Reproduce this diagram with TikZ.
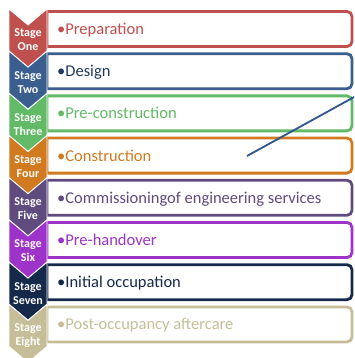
\documentclass[tikz,border=0pt]{standalone}
\usepackage{fontspec}
\setmainfont{Carlito}
\definecolor{cA}{HTML}{C0504D}
\definecolor{cB}{HTML}{3A5E8E}
\definecolor{tB}{HTML}{1F3A62}
\definecolor{cC}{HTML}{62BA66}
\definecolor{cD}{HTML}{D27A1F}
\definecolor{cE}{HTML}{604B7E}
\definecolor{cF}{HTML}{9E33C9}
\definecolor{cG}{HTML}{15294A}
\definecolor{cH}{HTML}{C6BE98}
\definecolor{lineblue}{HTML}{2F5590}
\begin{document}
\begin{tikzpicture}[x=1pt,y=-1pt,
  chev/.style={fill=#1,draw=white,line width=0.8pt,line join=miter},
  stagebox/.style={draw=#1,line width=2.8pt,fill=white},
  lab/.style={text=white,font=\fontsize{12}{14}\selectfont\bfseries,align=center,inner sep=0pt},
  item/.style={text=#1,font=\fontsize{16.5}{19}\selectfont,anchor=base west,inner sep=0pt},
  stray/.style={draw=lineblue,line width=1.8pt}]
\useasboundingbox (0,0) rectangle (354,358);
\clip (0,0) rectangle (354,358);
\fill[white] (0,0) rectangle (354,358);
\foreach \k/\c/\tc/\w/\s in {1/cA/cA/One/Preparation,
  2/cB/tB/Two/Design,
  3/cC/cC/Three/Pre-construction,
  4/cD/cD/Four/Construction,
  5/cE/cE/Five/Commissioningof engineering services,
  6/cF/cF/Six/Pre-handover,
  7/cG/cG/Seven/Initial occupation,
  8/cH/cH/Eight/Post-occupancy aftercare}{
  \pgfmathsetmacro\t{9+42.2*(\k-1)}
  \draw[stagebox=\c] (47,{\t+2.5}) [rounded corners=5pt] -- (352,{\t+2.5}) -- (352,{\t+37.5}) [sharp corners] -- (47,{\t+37.5}) -- cycle;
  \draw[chev=\c] (9,\t) -- (28,{\t+16}) -- (47,\t) -- (47,{\t+42}) -- (28,{\t+58}) -- (9,{\t+42}) -- cycle;
  \node[lab] (lab\k) at (28,{\t+31}) {Stage\\\w};
  \node[item=\tc] (txt\k) at (57,{\t+25.5}) {•\s};
}
\coordinate (s1) at (247,156);
\coordinate (s2) at (356,96);
\draw[stray] (s1) -- (s2);
\end{tikzpicture}
\end{document}
